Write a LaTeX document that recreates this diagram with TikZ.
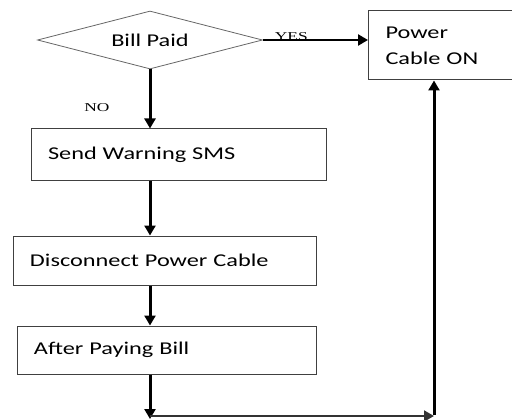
\documentclass[tikz,border=0pt]{standalone}
\usepackage{fontspec}
\usepackage{tikz}
\usetikzlibrary{shapes.geometric, arrows.meta}

\newfontfamily\boxfont[FakeStretch=1.35]{Carlito}
\newfontfamily\tagfont[FakeStretch=1.45]{Liberation Serif}

\begin{document}
\begin{tikzpicture}[x=1pt, y=-1pt,
    stage/.style={draw=black!75, line width=1pt, inner xsep=17pt, inner ysep=0pt, align=left,
                  font=\boxfont\fontsize{18}{26}\selectfont},
    flow/.style={line width=3pt, -{Triangle[length=10pt, width=11pt]}},
    answer/.style={font=\tagfont\fontsize{12}{14}\selectfont, inner sep=1pt}]

\useasboundingbox (0, 0) rectangle (512, 420);

% decision
\node[diamond, draw=black!60, line width=0.8pt, aspect=4, inner sep=0pt,
      minimum width=225pt, minimum height=58pt,
      font=\boxfont\fontsize{18}{22}\selectfont] (bill) at (150, 40) {Bill Paid};

% boxes
\node[stage, text width=110pt, minimum height=69pt] (power) at (440.5, 45.5) {Power\\Cable ON};
\node[stage, text width=261pt, minimum height=51pt] (sms) at (178.5, 154.5) {Send Warning SMS};
\node[stage, text width=269pt, minimum height=49pt] (disconnect) at (164.5, 260.5) {Disconnect Power Cable};
\node[stage, text width=265pt, minimum height=48pt] (after) at (166.5, 350) {After Paying Bill};

% return path
\coordinate (join) at (150, 416);
\coordinate (corner) at (434, 416);

% arrows
\draw[flow, line width=2.5pt] (bill.east) -- (bill.east -| power.west)
    node[answer, pos=0.27, above, yshift=-3pt] {YES};
\draw[flow] (bill.south) -- (bill.south |- sms.north)
    node[answer, pos=0.65, left=38pt] {NO};
\draw[flow] (bill.south |- sms.south) -- (bill.south |- disconnect.north);
\draw[flow] (bill.south |- disconnect.south) -- (bill.south |- after.north);
\draw[flow] (bill.south |- after.south) -- ([yshift=-3pt]join);
\draw[flow, line width=2pt, draw=black!80] (join) -- (corner);
\draw[flow] ([yshift=1.5pt]corner) -- (corner |- power.south);

\end{tikzpicture}
\end{document}
